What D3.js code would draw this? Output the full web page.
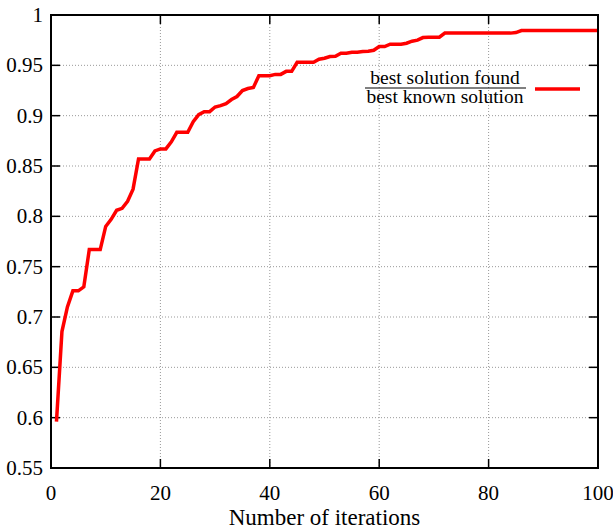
<!DOCTYPE html>
<html><head><meta charset="utf-8">
<script src="https://cdn.jsdelivr.net/npm/d3@7"></script>
<style>body{margin:0;background:#fff}svg{display:block}text{font-family:"Liberation Serif","Times New Roman",serif}</style>
</head><body><svg id="c" width="613" height="529"></svg>
<script>
const iterations = [1,2,3,4,5,6,7,8,9,10,11,12,13,14,15,16,17,18,19,20,21,22,23,24,25,26,27,28,29,30,31,32,33,34,35,36,37,38,39,40,41,42,43,44,45,46,47,48,49,50,51,52,53,54,55,56,57,58,59,60,61,62,63,64,65,66,67,68,69,70,71,72,73,74,75,76,77,78,79,80,81,82,83,84,85,86,87,88,89,90,91,92,93,94,95,96,97,98,99,100];
const ratio = [0.596,0.6855,0.710,0.726,0.726,0.730,0.767,0.767,0.767,0.790,0.797,0.806,0.808,0.815,0.827,0.857,0.857,0.857,0.865,0.867,0.867,0.874,0.8835,0.8835,0.8835,0.894,0.901,0.904,0.904,0.9086,0.910,0.912,0.916,0.919,0.925,0.927,0.928,0.9396,0.9396,0.9396,0.941,0.941,0.944,0.944,0.953,0.953,0.953,0.953,0.956,0.957,0.9587,0.959,0.962,0.962,0.963,0.963,0.9637,0.964,0.965,0.9686,0.9686,0.971,0.971,0.971,0.972,0.974,0.975,0.9776,0.978,0.978,0.978,0.982,0.982,0.982,0.982,0.982,0.982,0.982,0.982,0.982,0.982,0.982,0.982,0.982,0.9825,0.9845,0.9845,0.9845,0.9845,0.9845,0.9845,0.9845,0.9845,0.9845,0.9845,0.9845,0.9845,0.9845,0.9845,0.9845];
const xTicks = [0,20,40,60,80,100];
const yTicks = [0.55,0.6,0.65,0.7,0.75,0.8,0.85,0.9,0.95,1];
const legendTop = "best solution found";
const legendBottom = "best known solution";
const xTitle = "Number of iterations";

const svg = d3.select("#c");
const L=51, R=598, T=15, B=468;
const x = d3.scaleLinear().domain([0,100]).range([L,R]);
const y = d3.scaleLinear().domain([0.55,1]).range([B,T]);

const g = svg.append("g");
g.selectAll(".gx").data(xTicks.slice(1,-1)).enter().append("line")
 .attr("x1",d=>x(d)).attr("x2",d=>x(d)).attr("y1",T).attr("y2",B)
 .attr("stroke","#999").attr("stroke-width",1).attr("stroke-dasharray","1,2");
g.selectAll(".gy").data(yTicks.slice(1,-1)).enter().append("line")
 .attr("y1",d=>y(d)).attr("y2",d=>y(d)).attr("x1",L).attr("x2",R)
 .attr("stroke","#999").attr("stroke-width",1).attr("stroke-dasharray","1,2");

const tk = 9;
xTicks.forEach(d=>{
  g.append("line").attr("x1",x(d)).attr("x2",x(d)).attr("y1",B).attr("y2",B-tk).attr("stroke","#000").attr("stroke-width",1.5);
  g.append("line").attr("x1",x(d)).attr("x2",x(d)).attr("y1",T).attr("y2",T+tk).attr("stroke","#000").attr("stroke-width",1.5);
});
yTicks.forEach(d=>{
  g.append("line").attr("y1",y(d)).attr("y2",y(d)).attr("x1",L).attr("x2",L+tk).attr("stroke","#000").attr("stroke-width",1.5);
  g.append("line").attr("y1",y(d)).attr("y2",y(d)).attr("x1",R).attr("x2",R-tk).attr("stroke","#000").attr("stroke-width",1.5);
});

svg.selectAll(".xl").data(xTicks).enter().append("text")
 .attr("x",d=>x(d)).attr("y",B+32).attr("text-anchor","middle").attr("font-size",21).text(d=>d);
svg.selectAll(".yl").data(yTicks).enter().append("text")
 .attr("x",L-8).attr("y",d=>y(d)+7).attr("text-anchor","end").attr("font-size",21).text(d=>d);

svg.append("text").attr("x",(L+R)/2).attr("y",525).attr("text-anchor","middle").attr("font-size",23).text(xTitle);

const line = d3.line().x((d,i)=>x(iterations[i])).y(d=>y(d));
svg.append("path").datum(ratio).attr("d",line).attr("fill","none").attr("stroke","#ff0000").attr("stroke-width",3.5).attr("stroke-linejoin","miter");

svg.append("rect").attr("x",L).attr("y",T).attr("width",R-L).attr("height",B-T).attr("fill","none").attr("stroke","#000").attr("stroke-width",2);

const lx = 445;
svg.append("text").attr("x",lx).attr("y",84).attr("text-anchor","middle").attr("font-size",19.5).text(legendTop);
svg.append("line").attr("x1",365).attr("x2",526).attr("y1",88).attr("y2",88).attr("stroke","#000").attr("stroke-width",1);
svg.append("text").attr("x",lx).attr("y",103).attr("text-anchor","middle").attr("font-size",19.5).text(legendBottom);
svg.append("line").attr("x1",535).attr("x2",580).attr("y1",89).attr("y2",89).attr("stroke","#ff0000").attr("stroke-width",3.5);
</script></body></html>
